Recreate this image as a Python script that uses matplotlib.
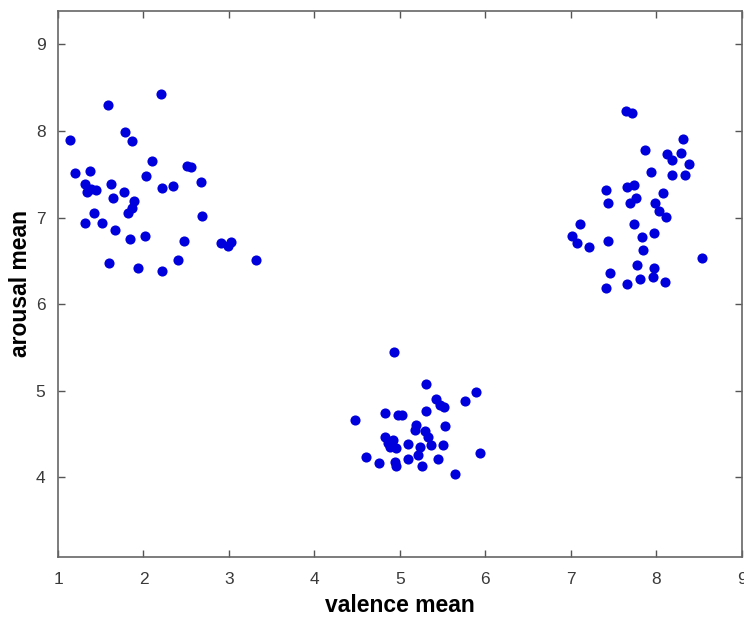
import matplotlib
matplotlib.use("Agg")
import matplotlib.pyplot as plt

# cluster 1: low valence, high arousal
valence_low = [1.14, 1.20, 1.37, 1.32, 1.34, 1.44, 1.39, 1.42, 1.31, 1.51,
               1.58, 1.62, 1.64, 1.67, 1.60, 1.78, 1.86, 1.77, 1.89, 1.86,
               1.82, 1.84, 1.93, 2.03, 2.10, 2.02, 2.21, 2.22, 2.22, 2.35,
               2.40, 2.47, 2.51, 2.56, 2.67, 2.69, 2.91, 2.99, 3.02, 3.32]
arousal_low = [7.90, 7.51, 7.54, 7.39, 7.30, 7.32, 7.33, 7.05, 6.94, 6.94,
               8.30, 7.39, 7.23, 6.86, 6.47, 7.99, 7.88, 7.29, 7.19, 7.11,
               7.05, 6.75, 6.42, 7.48, 7.65, 6.79, 8.43, 7.34, 6.38, 7.36,
               6.51, 6.73, 7.60, 7.58, 7.41, 7.02, 6.71, 6.67, 6.72, 6.51]

# cluster 2: neutral valence, low arousal
valence_mid = [4.93, 5.31, 5.89, 5.76, 5.42, 5.47, 5.52, 5.31, 4.83, 4.98,
               5.03, 4.47, 5.53, 5.19, 5.18, 5.29, 5.33, 4.82, 4.92, 4.86,
               5.09, 4.88, 4.96, 5.23, 5.36, 5.51, 5.21, 5.94, 4.60, 5.09,
               5.44, 4.75, 4.94, 4.96, 5.26, 5.65]
arousal_mid = [5.45, 5.08, 4.99, 4.88, 4.90, 4.84, 4.81, 4.76, 4.74, 4.72,
               4.72, 4.66, 4.59, 4.60, 4.55, 4.53, 4.47, 4.46, 4.43, 4.40,
               4.39, 4.35, 4.34, 4.35, 4.37, 4.37, 4.26, 4.28, 4.24, 4.21,
               4.21, 4.16, 4.18, 4.13, 4.13, 4.04]

# cluster 3: high valence, high arousal
valence_high = [7.64, 7.72, 8.31, 7.87, 8.12, 8.18, 8.29, 8.38, 7.94, 8.18,
                8.34, 7.41, 7.66, 7.74, 8.08, 7.44, 7.69, 7.76, 7.98, 8.03,
                8.11, 7.74, 7.11, 7.01, 7.07, 7.21, 7.44, 7.83, 7.97, 7.85,
                7.77, 7.97, 7.46, 7.41, 7.66, 7.81, 7.96, 8.10, 8.53]
arousal_high = [8.23, 8.21, 7.91, 7.78, 7.73, 7.66, 7.75, 7.62, 7.53, 7.49,
                7.49, 7.32, 7.35, 7.38, 7.28, 7.17, 7.17, 7.22, 7.17, 7.08,
                7.01, 6.93, 6.92, 6.79, 6.71, 6.66, 6.73, 6.77, 6.82, 6.62,
                6.45, 6.42, 6.36, 6.19, 6.23, 6.29, 6.31, 6.25, 6.53]

xticks = [1, 2, 3, 4, 5, 6, 7, 8, 9]
yticks = [4, 5, 6, 7, 8, 9]

plt.rcParams['font.family'] = ['Liberation Sans', 'DejaVu Sans']

fig = plt.figure(figsize=(7.44, 6.23), dpi=100)
ax = fig.add_axes([0.078, 0.106, 0.919, 0.877])

for xs, ys in [(valence_low, arousal_low), (valence_mid, arousal_mid),
               (valence_high, arousal_high)]:
    ax.plot(xs, ys, 'o', color='#0000dd', markersize=7.3, markeredgewidth=0)

ax.set_xlim(1, 9)
ax.set_ylim(3.08, 9.39)
ax.set_xticks(xticks)
ax.set_yticks(yticks)
ax.tick_params(direction='in', top=True, right=True, length=5, width=1,
               color='#555555', labelcolor='#3a3a3a', labelsize=12.5)
ax.tick_params(axis='x', pad=11)
ax.tick_params(axis='y', pad=9)
for s in ax.spines.values():
    s.set_color('#666666')
    s.set_linewidth(1.2)

ax.set_xlabel('valence mean', fontsize=16.5, fontweight='bold', labelpad=5)
ax.set_ylabel('arousal mean', fontsize=16.5, fontweight='bold', labelpad=3)

fig.savefig('out.png', dpi=100)
